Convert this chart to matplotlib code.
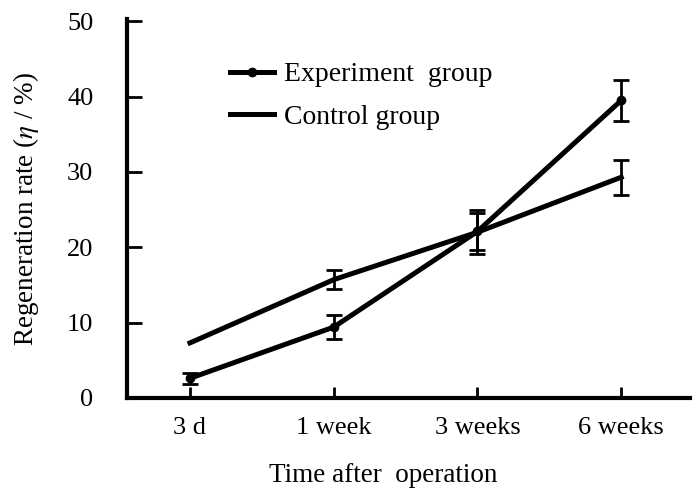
import matplotlib.pyplot as plt
import numpy as np

plt.rcParams['font.family'] = ['Liberation Serif', 'DejaVu Serif']
plt.rcParams['mathtext.fontset'] = 'stix'

categories = ['3 d', '1 week', '3 weeks', '6 weeks']
experiment = [2.6, 9.4, 22.1, 39.5]
experiment_err = [0.7, 1.6, 2.4, 2.7]
control = [7.3, 15.7, 22.0, 29.3]
control_err = [0.0, 1.3, 2.9, 2.3]

x = np.arange(len(categories))

fig = plt.figure(figsize=(7.0, 5.03), dpi=100)
ax = fig.add_axes([0.181, 0.209, 0.805, 0.753])

# error bars first, then the lines on top
ax.errorbar(x, experiment, yerr=experiment_err, color='black', linewidth=0,
            elinewidth=2, capsize=6, capthick=2)
ax.errorbar(x[1:], control[1:], yerr=control_err[1:], color='black', linewidth=0,
            elinewidth=2, capsize=6, capthick=2)
exp_line, = ax.plot(x, experiment, color='black', linewidth=3.6,
                    marker='o', markersize=6, label='Experiment  group')
ctl_line, = ax.plot(x, control, color='black', linewidth=3.6, label='Control group')

ax.set_xlim(-0.44, 3.48)
ax.set_ylim(0, 50.3)
ax.set_yticks([0, 10, 20, 30, 40, 50])
ax.set_xticks(x)
ax.set_xticklabels(categories)
ax.tick_params(axis='both', direction='in', labelsize=19, width=2)
ax.tick_params(axis='y', length=11, pad=24)
ax.tick_params(axis='x', length=8, pad=14)

ax.spines['top'].set_visible(False)
ax.spines['right'].set_visible(False)
ax.spines['left'].set_linewidth(3)
ax.spines['bottom'].set_linewidth(3)

ax.set_xlabel('Time after  operation', fontsize=19.5)
ax.set_ylabel('Regeneration rate ($\\eta$ / %)', fontsize=19.5)
ax.xaxis.set_label_coords(0.456, -0.172)
ax.yaxis.set_label_coords(-0.152, 0.5)

ax.legend(handles=[exp_line, ctl_line], loc='upper left',
          bbox_to_anchor=(0.183, 0.887), frameon=False, borderpad=0,
          borderaxespad=0, fontsize=20, handlelength=1.6, handletextpad=0.36,
          labelspacing=0.62)

fig.savefig('out.png', dpi=100)
